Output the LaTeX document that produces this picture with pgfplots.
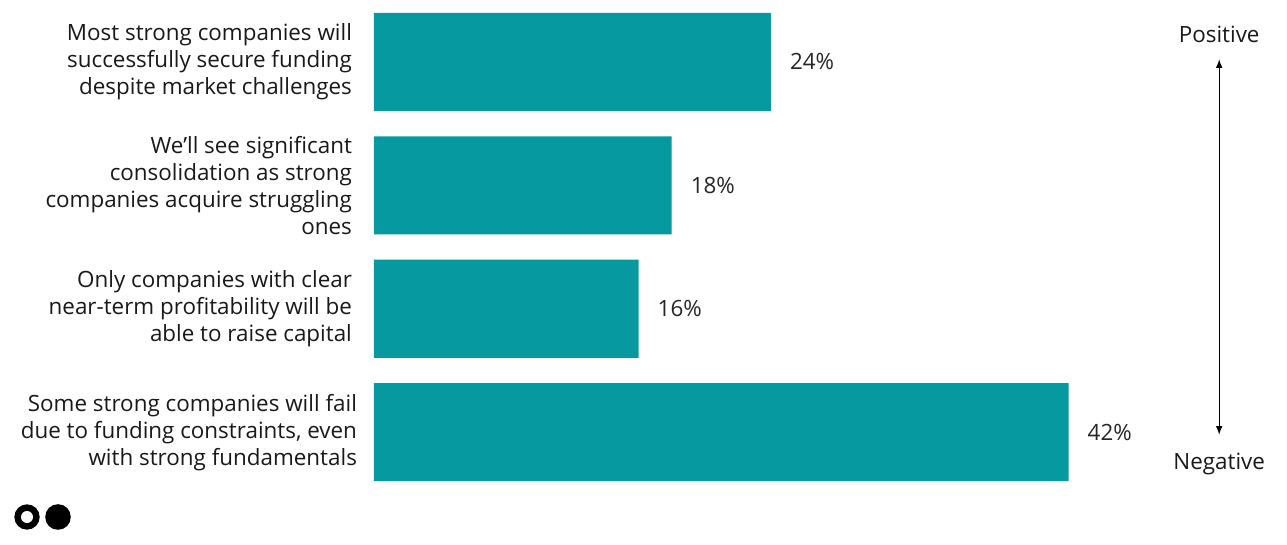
\documentclass[border=0pt]{standalone}
\usepackage{pgfplots}
\pgfplotsset{compat=1.18}
\usepackage{fontspec}
\setmainfont{Open Sans}
\definecolor{barteal}{HTML}{06999F}

\begin{document}
\begin{tikzpicture}[x=0.5pt,y=-0.5pt]
% page 1287 x 545 px, 1 px = 0.5pt
\useasboundingbox (0,0) rectangle (1287,545);
\begin{axis}[
    at={(187pt,0pt)}, anchor=north west,
    scale only axis,
    width=413.5pt, height=247pt,
    xmin=0, xmax=50,
    ymin=-0.5, ymax=3.5,
    y dir=reverse,
    axis lines=none,
    clip=false,
    xbar, bar width=49pt,
    ytick={0,1,2,3},
    yticklabels={},
    /pgf/number format/assume math mode=true,
    nodes near coords={\pgfmathprintnumber{\pgfplotspointmeta}\%},
    nodes near coords style={font=\fontsize{11.2}{13}\selectfont, anchor=west, xshift=6pt, text=black!85},
    point meta=x,
  ]
  \addplot[fill=barteal, draw=none] coordinates {(24,0) (18,1) (16,2) (42,3)};

  \begin{scope}[font=\fontsize{11.2}{13.5}\selectfont, text=black!90]
  \node[anchor=east, align=right] at (axis cs:0,0) [xshift=-7.5pt] {Most strong companies will\\successfully secure funding\\despite market challenges};
  \node[anchor=east, align=right] at (axis cs:0,1) [xshift=-7.5pt] {We’ll see significant\\consolidation as strong\\companies acquire struggling\\ones};
  \node[anchor=east, align=right] at (axis cs:0,2) [xshift=-7.5pt] {Only companies with clear\\near-term profitability will be\\able to raise capital};
  \node[anchor=east, align=right] at (axis cs:0,3) [xshift=-5pt] {Some strong companies will fail\\due to funding constraints, even\\with strong fundamentals};

  \node at (axis cs:51.1,-0.219) {Positive};
  \node at (axis cs:51.1,3.26) {Negative};
  \end{scope}
  \draw[-latex, line width=0.5pt] (axis cs:51.1,1.5) -- (axis cs:51.1,-0.02);
  \draw[-latex, line width=0.5pt] (axis cs:51.1,1.5) -- (axis cs:51.1,3.02);
\end{axis}
% logo
\draw[line width=3.2pt] (27,517) circle (4.7pt);
\fill (58,517) circle (6.4pt);
\end{tikzpicture}
\end{document}
